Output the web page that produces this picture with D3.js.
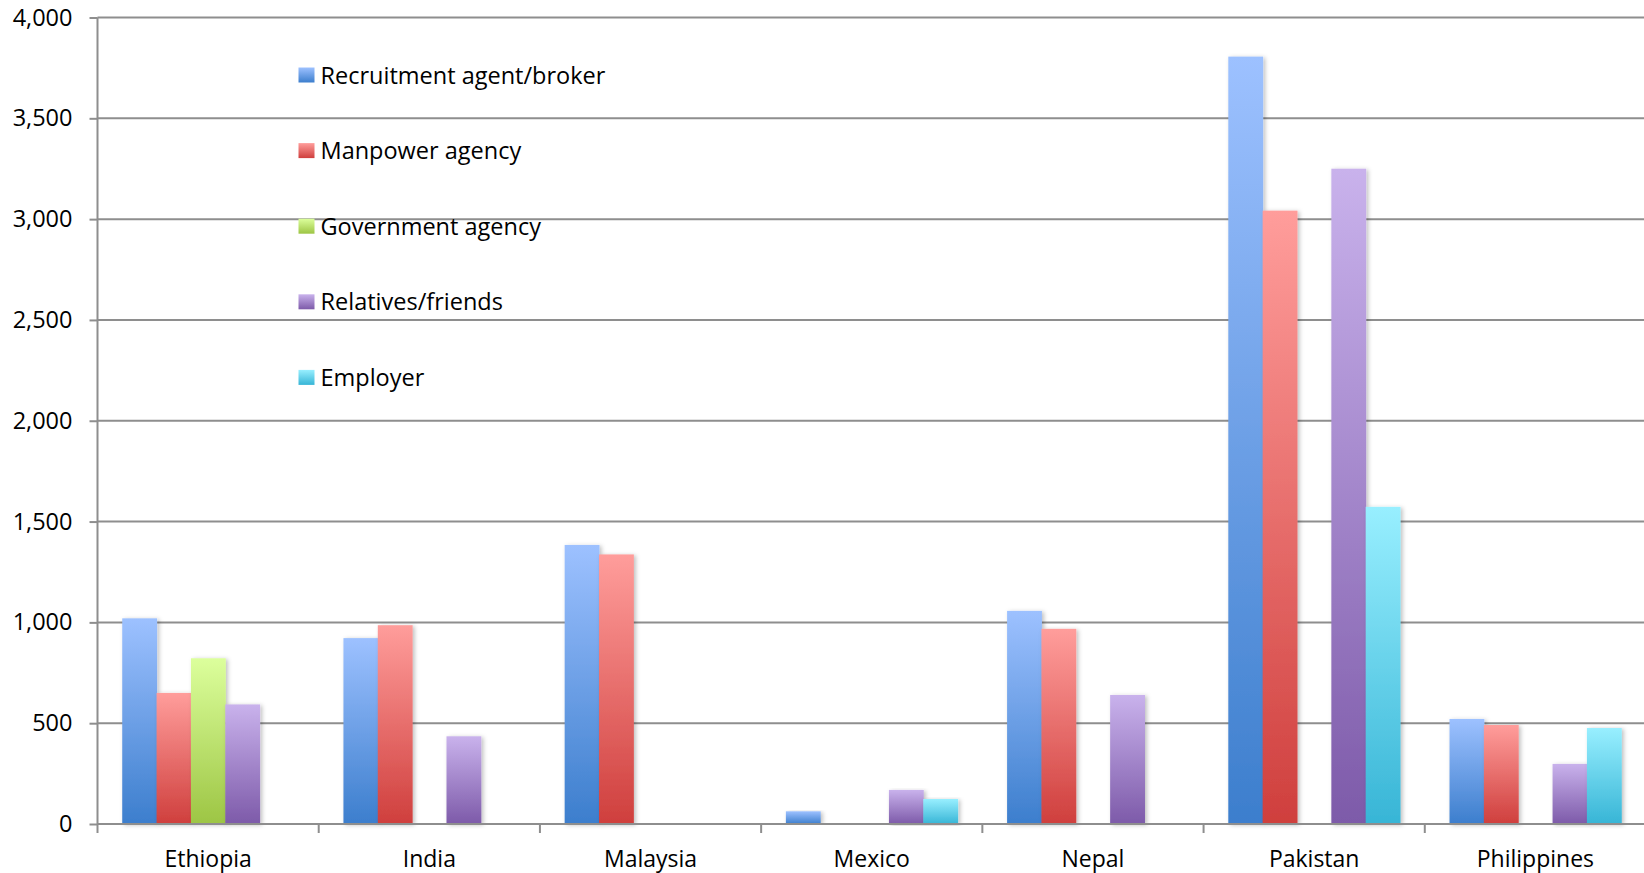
<!DOCTYPE html>
<html>
<head>
<meta charset="utf-8">
<script src="https://cdn.jsdelivr.net/npm/d3@7"></script>
<style>
  html, body { margin: 0; padding: 0; background: #fff; overflow: hidden; }
  text { font-family: "Open Sans", sans-serif; fill: #000; }
</style>
</head>
<body>
<div id="chart-area"></div>
<script>
// data
const countries = ['Ethiopia', 'India', 'Malaysia', 'Mexico', 'Nepal', 'Pakistan', 'Philippines'];
const seriesNames = ['Recruitment agent/broker', 'Manpower agency', 'Government agency', 'Relatives/friends', 'Employer'];
const recruitment = [1020, 922, 1384, 63, 1057, 3806, 521];
const manpower = [650, 986, 1337, null, 968, 3042, 491];
const government = [822, null, null, null, null, null, null];
const relatives = [593, 435, null, 169, 640, 3250, 298];
const employer = [null, null, null, 124, null, 1573, 476];
const yTicks = [0, 500, 1000, 1500, 2000, 2500, 3000, 3500, 4000];

const seriesValues = [recruitment, manpower, government, relatives, employer];
const seriesColors = [
  ['#9dc1ff', '#3c7ecd'],
  ['#ff9d9b', '#cf3f3d'],
  ['#dcff9c', '#9dc544'],
  ['#c9b2ec', '#7d5aa9'],
  ['#98efff', '#37b5d6']
];

const createSVG = selectorID => margins => (width, height) => {
  const root = d3.select(selectorID)
    .append('svg')
    .attr('width', width)
    .attr('height', height);
  return {
    root: root,
    svg: root.append('g')
      .attr('transform', `translate(${margins.left}, ${margins.top})`),
    width: width - margins.left - margins.right,
    height: height - margins.top - margins.bottom,
    margins: margins
  };
};

const drawChart = svgObj => {
  let { root, svg, width, height } = svgObj;

  // gradients + shadow
  const defs = root.append('defs');
  seriesColors.forEach((c, i) => {
    const g = defs.append('linearGradient')
      .attr('id', `grad${i}`)
      .attr('x1', 0).attr('y1', 0).attr('x2', 0).attr('y2', 1);
    g.append('stop').attr('offset', '0%').attr('stop-color', c[0]);
    g.append('stop').attr('offset', '100%').attr('stop-color', c[1]);
  });
  defs.append('filter')
    .attr('id', 'shadow')
    .attr('x', '-20%').attr('y', '-5%').attr('width', '150%').attr('height', '110%')
    .append('feDropShadow')
    .attr('dx', 2).attr('dy', 1)
    .attr('stdDeviation', 2)
    .attr('flood-color', '#000')
    .attr('flood-opacity', 0.25);

  // scales
  let x0 = d3.scaleBand()
    .domain(countries)
    .range([0, width]);
  let x1 = d3.scaleBand()
    .domain(d3.range(seriesNames.length))
    .range([0, x0.bandwidth()])
    .paddingInner(0)
    .paddingOuter(0.72);
  let y = d3.scaleLinear()
    .domain([0, 4000])
    .range([height, 0]);

  // gridlines
  svg.append('g')
    .attr('class', 'grid')
    .selectAll('line')
    .data(yTicks.filter(d => d > 0))
    .enter()
    .append('line')
    .attr('x1', 0)
    .attr('x2', width)
    .attr('y1', d => y(d))
    .attr('y2', d => y(d))
    .attr('stroke', '#8e8e8e')
    .attr('stroke-width', 2);

  // y-axis
  let yAxisCall = d3.axisLeft(y)
    .tickValues(yTicks)
    .tickSize(8)
    .tickPadding(17)
    .tickFormat(d3.format(','));
  const yAxis = svg.append('g')
    .attr('class', 'y axis')
    .call(yAxisCall);
  yAxis.select('.domain').attr('stroke', '#8e8e8e').attr('stroke-width', 2).attr('d', `M0,0V${height}`);
  yAxis.selectAll('.tick line').attr('stroke', '#8e8e8e').attr('stroke-width', 2);
  yAxis.selectAll('.tick text').attr('font-size', '23.5px').attr('font-family', '"Open Sans", sans-serif');

  // bars
  const groups = svg.selectAll('.country')
    .data(countries)
    .enter()
    .append('g')
    .attr('class', 'country')
    .attr('transform', d => `translate(${x0(d)}, 0)`);
  groups.selectAll('rect')
    .data((c, ci) => seriesValues.map((vals, si) => ({ s: si, v: vals[ci] })).filter(d => d.v != null))
    .enter()
    .append('rect')
    .attr('x', d => x1(d.s))
    .attr('y', d => y(d.v))
    .attr('width', x1.bandwidth() + 0.5)
    .attr('height', d => height - y(d.v))
    .attr('fill', d => `url(#grad${d.s})`)
    .attr('filter', 'url(#shadow)');

  // x-axis
  const xAxis = svg.append('g')
    .attr('class', 'x axis')
    .attr('transform', `translate(0, ${height})`);
  xAxis.append('line')
    .attr('x1', 0).attr('x2', width)
    .attr('stroke', '#8e8e8e')
    .attr('stroke-width', 2);
  xAxis.selectAll('.tick')
    .data(countries.map(c => x0(c)).concat([width]))
    .enter()
    .append('line')
    .attr('class', 'tick')
    .attr('x1', d => d).attr('x2', d => d)
    .attr('y1', 0).attr('y2', 9)
    .attr('stroke', '#8e8e8e')
    .attr('stroke-width', 2);
  xAxis.selectAll('text')
    .data(countries)
    .enter()
    .append('text')
    .attr('x', d => x0(d) + x0.bandwidth() / 2)
    .attr('y', 43)
    .attr('text-anchor', 'middle')
    .attr('font-size', '23px')
    .text(d => d);

  // legend
  const legend = svg.append('g')
    .attr('class', 'legend')
    .attr('transform', 'translate(201, 0)');
  const items = legend.selectAll('g')
    .data(seriesNames)
    .enter()
    .append('g')
    .attr('transform', (d, i) => `translate(0, ${50 + i * 75.6})`);
  items.append('rect')
    .attr('x', 0)
    .attr('y', 0)
    .attr('width', 16)
    .attr('height', 15)
    .attr('fill', (d, i) => `url(#grad${i})`);
  items.append('text')
    .attr('x', 22)
    .attr('y', 16)
    .attr('font-size', '23.5px')
    .text(d => d);
};

drawChart(createSVG('#chart-area')({
  top: 17.5,
  bottom: 49,
  left: 97.5,
  right: -2
})(1644, 873));
</script>
</body>
</html>
